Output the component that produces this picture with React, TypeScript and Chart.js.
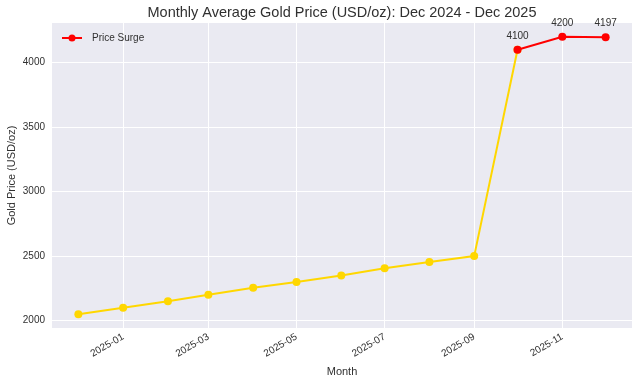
import React, { useEffect, useRef } from "react";
import { Chart, registerables } from "chart.js";

Chart.register(...registerables);

const months = [
  "2024-12", "2025-01", "2025-02", "2025-03", "2025-04", "2025-05", "2025-06",
  "2025-07", "2025-08", "2025-09", "2025-10", "2025-11", "2025-12",
];
const prices = [2050, 2100, 2150, 2200, 2255, 2300, 2350, 2405, 2455, 2500, 4100, 4200, 4197];
const surgeStartIndex = 10;
const xTickLabels = ["2025-01", "2025-03", "2025-05", "2025-07", "2025-09", "2025-11"];
const yTicks = [2000, 2500, 3000, 3500, 4000];

const TITLE = "Monthly Average Gold Price (USD/oz): Dec 2024 - Dec 2025";
const FONT = "'Liberation Sans', Arial, sans-serif";
const TEXT = "#303030";

const dayOf = (ym: string) => {
  const [y, m] = ym.split("-").map(Number);
  return (Date.UTC(y, m - 1, 1) - Date.UTC(2024, 11, 1)) / 864e5;
};

export default function App() {
  const ref = useRef<HTMLCanvasElement | null>(null);
  useEffect(() => {
    if (!ref.current) return;
    const pts = months.map((m, i) => ({ x: dayOf(m), y: prices[i] }));
    const normal = pts.slice(0, surgeStartIndex + 1);
    const surge = pts.slice(surgeStartIndex);
    const xs = pts.map((p) => p.x);
    const xMin = Math.min(...xs), xMax = Math.max(...xs);
    const xPad = (xMax - xMin) * 0.05;
    const yMin = Math.min(...prices), yMax = Math.max(...prices);
    const yPad = (yMax - yMin) * 0.05;

    const bgPlugin = {
      id: "bg",
      beforeDraw(chart: any) {
        const { ctx, chartArea: a } = chart;
        ctx.save();
        ctx.fillStyle = "#ffffff";
        ctx.fillRect(0, 0, chart.width, chart.height);
        ctx.fillStyle = "#EAEAF2";
        ctx.fillRect(a.left, a.top, a.right - a.left, a.bottom - a.top);
        ctx.restore();
      },
      afterDraw(chart: any) {
        const { ctx, chartArea: a } = chart;
        ctx.save();
        ctx.fillStyle = TEXT;
        ctx.font = `14.5px ${FONT}`;
        ctx.textAlign = "center";
        ctx.textBaseline = "middle";
        ctx.fillText(TITLE, (a.left + a.right) / 2, 12.5);
        // labels for surge points
        const meta = chart.getDatasetMeta(1);
        ctx.font = `10px ${FONT}`;
        meta.data.forEach((el: any, i: number) => {
          ctx.fillText(String(prices[surgeStartIndex + i]), el.x, el.y - 14);
        });
        // legend
        const ly = a.top + 15;
        const lx = a.left + 10;
        ctx.strokeStyle = "#FF0000";
        ctx.lineWidth = 2;
        ctx.beginPath();
        ctx.moveTo(lx, ly);
        ctx.lineTo(lx + 20, ly);
        ctx.stroke();
        ctx.fillStyle = "#FF0000";
        ctx.beginPath();
        ctx.arc(lx + 10, ly, 3.5, 0, Math.PI * 2);
        ctx.fill();
        ctx.fillStyle = TEXT;
        ctx.textAlign = "left";
        ctx.font = `10px ${FONT}`;
        ctx.fillText("Price Surge", lx + 30, ly);
        ctx.restore();
      },
    };

    const chart = new Chart(ref.current, {
      type: "line",
      data: {
        datasets: [
          {
            label: "Gold Price",
            data: normal,
            order: 2,
            borderColor: "#FFD700",
            backgroundColor: "#FFD700",
            borderWidth: 2,
            pointRadius: 4,
            pointHoverRadius: 4,
            pointBorderWidth: 0,
            tension: 0,
          },
          {
            label: "Price Surge",
            data: surge,
            order: 1,
            borderColor: "#FF0000",
            backgroundColor: "#FF0000",
            borderWidth: 2,
            pointRadius: 4,
            pointHoverRadius: 4,
            pointBorderWidth: 0,
            tension: 0,
          },
        ],
      },
      options: {
        animation: false,
        responsive: false,
        layout: { padding: { top: 23, right: 8, left: 0, bottom: 0 } },
        plugins: {
          legend: { display: false },
          tooltip: { enabled: false },
          title: { display: false },
        },
        scales: {
          x: {
            type: "linear",
            min: xMin - xPad,
            max: xMax + xPad,
            afterFit(scale: any) {
              scale.height = 58;
            },
            afterBuildTicks(scale: any) {
              scale.ticks = xTickLabels.map((l) => ({ value: dayOf(l) }));
            },
            ticks: {
              autoSkip: false,
              minRotation: 30,
              maxRotation: 30,
              padding: 3,
              color: TEXT,
              font: { size: 10, family: FONT },
              callback(value: any) {
                const i = xTickLabels.findIndex((l) => dayOf(l) === value);
                return i >= 0 ? xTickLabels[i] : "";
              },
            },
            grid: { color: "#ffffff", lineWidth: 1, drawTicks: false },
            border: { display: false },
            title: {
              display: true,
              text: "Month",
              color: TEXT,
              font: { size: 11, family: FONT },
              padding: { top: 0, bottom: 7 },
            },
          },
          y: {
            type: "linear",
            min: yMin - yPad,
            max: yMax + yPad,
            afterFit(scale: any) {
              scale.width = 52;
            },
            afterBuildTicks(scale: any) {
              scale.ticks = yTicks.map((v) => ({ value: v }));
            },
            ticks: {
              padding: 7,
              color: TEXT,
              font: { size: 10, family: FONT },
              callback(value: any) {
                return String(value);
              },
            },
            grid: { color: "#ffffff", lineWidth: 1, drawTicks: false },
            border: { display: false },
            title: {
              display: true,
              text: "Gold Price (USD/oz)",
              color: TEXT,
              font: { size: 11, family: FONT },
              padding: { top: 5, bottom: 0 },
            },
          },
        },
      },
      plugins: [bgPlugin],
    });
    return () => chart.destroy();
  }, []);

  return (
    <div style={{ position: "absolute", left: 0, top: 0, width: 640, height: 386 }}>
      <canvas ref={ref} width={640} height={386} style={{ width: 640, height: 386 }} />
    </div>
  );
}
